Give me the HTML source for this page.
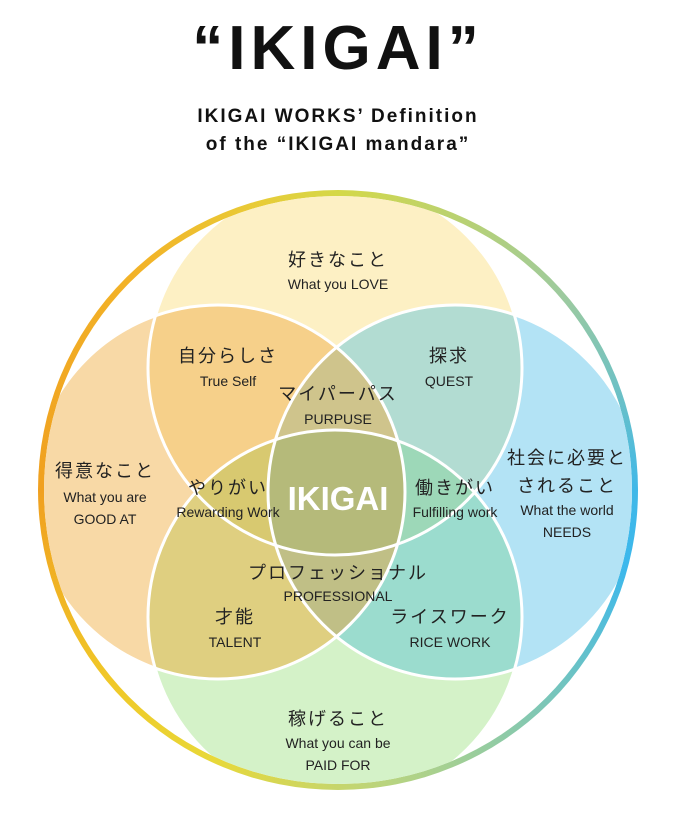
<!DOCTYPE html>
<html><head><meta charset="utf-8"><style>
body{margin:0;width:676px;height:814px;background:#fff;overflow:hidden;position:relative;font-family:"Liberation Sans","Noto Sans CJK JP",sans-serif;color:#222}
.t{position:absolute;left:0;width:676px;text-align:center;color:#111}
#ring{position:absolute;left:38px;top:190px;width:600px;height:600px;border-radius:50%;
background:conic-gradient(from 0deg,#d4d848 0deg,#9ccaa0 50deg,#40b8e8 90deg,#3cb8ec 105deg,#84c8b0 140deg,#b8d480 170deg,#e8d838 205deg,#f0c828 230deg,#f0a020 270deg,#f2b428 320deg,#e8cc38 345deg,#d4d848 360deg)}
#inner{position:absolute;left:44px;top:196px;width:588px;height:588px;border-radius:50%;background:#fff}
svg{position:absolute;left:0;top:0}
</style></head><body>
<div class="t" style="top:12px;font-size:62px;font-weight:bold;letter-spacing:5px;line-height:74px">“IKIGAI”</div>
<div class="t" style="top:103px;font-size:19px;font-weight:bold;letter-spacing:2px;line-height:28px">IKIGAI WORKS’ Definition<br>of the “IKIGAI mandara”</div>
<div id="ring"></div><div id="inner"></div>
<svg width="676" height="814" viewBox="0 0 676 814">
<defs>
<clipPath id="o"><circle cx="338" cy="490" r="294"/></clipPath>
<clipPath id="T"><circle cx="335" cy="368" r="187"/></clipPath>
<clipPath id="L"><circle cx="218" cy="492" r="187"/></clipPath>
<clipPath id="R"><circle cx="455" cy="492" r="187"/></clipPath>
<clipPath id="B"><circle cx="335" cy="617" r="187"/></clipPath>
</defs>
<g clip-path="url(#o)">
<circle cx="335" cy="368" r="187" fill="#fdf0c4"/>
<circle cx="218" cy="492" r="187" fill="#f8d9a6"/>
<circle cx="455" cy="492" r="187" fill="#b3e3f5"/>
<circle cx="335" cy="617" r="187" fill="#d4f2c8"/>
<g clip-path="url(#T)"><circle cx="218" cy="492" r="187" fill="#f6d08a"/><circle cx="455" cy="492" r="187" fill="#b2dcd2"/></g>
<g clip-path="url(#B)"><circle cx="218" cy="492" r="187" fill="#dfcf80"/><circle cx="455" cy="492" r="187" fill="#9bdcce"/></g>
<g clip-path="url(#L)"><g clip-path="url(#R)"><circle cx="335" cy="368" r="187" fill="#cfc48c"/><circle cx="335" cy="617" r="187" fill="#c0bf86"/></g></g>
<g clip-path="url(#T)"><g clip-path="url(#B)"><circle cx="218" cy="492" r="187" fill="#d8c970"/><circle cx="455" cy="492" r="187" fill="#9dd8b8"/></g></g>
<g clip-path="url(#T)"><g clip-path="url(#B)"><g clip-path="url(#L)"><circle cx="455" cy="492" r="187" fill="#b5ba7a"/></g></g></g>
<g fill="none" stroke="#fff" stroke-width="3">
<circle cx="335" cy="368" r="187"/><circle cx="218" cy="492" r="187"/><circle cx="455" cy="492" r="187"/><circle cx="335" cy="617" r="187"/>
</g>
</g>
<g font-family="Liberation Sans, Noto Sans CJK JP, sans-serif" text-anchor="middle" fill="#222">
<g font-size="18" letter-spacing="2">
<text x="338" y="266">好きなこと</text>
<text x="228" y="362">自分らしさ</text>
<text x="449" y="362">探求</text>
<text x="338" y="400">マイパーパス</text>
<text x="105" y="477">得意なこと</text>
<text x="228" y="494">やりがい</text>
<text x="455" y="494">働きがい</text>
<text x="567" y="464">社会に必要と</text>
<text x="567" y="492">されること</text>
<text x="338" y="579">プロフェッショナル</text>
<text x="235" y="623">才能</text>
<text x="450" y="623">ライスワーク</text>
<text x="338" y="725">稼げること</text>
</g>
<g font-size="14">
<text x="338" y="289">What you LOVE</text>
<text x="228" y="386">True Self</text>
<text x="449" y="386">QUEST</text>
<text x="338" y="424">PURPUSE</text>
<text x="105" y="502">What you are</text>
<text x="105" y="524">GOOD AT</text>
<text x="228" y="517">Rewarding Work</text>
<text x="455" y="517">Fulfilling work</text>
<text x="567" y="515">What the world</text>
<text x="567" y="537">NEEDS</text>
<text x="338" y="601">PROFESSIONAL</text>
<text x="235" y="647">TALENT</text>
<text x="450" y="647">RICE WORK</text>
<text x="338" y="748">What you can be</text>
<text x="338" y="770">PAID FOR</text>
</g>
<text x="338" y="510" font-size="33" font-weight="bold" fill="#fff">IKIGAI</text>
</g>
</svg>
</body></html>
